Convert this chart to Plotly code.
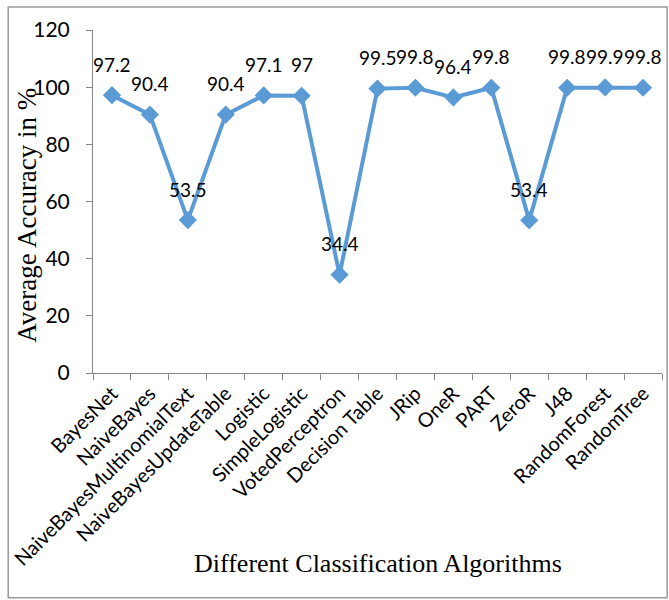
import plotly.graph_objects as go

algorithms = ["BayesNet", "NaiveBayes", "NaiveBayesMultinomialText", "NaiveBayesUpdateTable",
              "Logistic", "SimpleLogistic", "VotedPerceptron", "Decision Table", "JRip", "OneR",
              "PART", "ZeroR", "J48", "RandomForest", "RandomTree"]
accuracy = [97.2, 90.4, 53.5, 90.4, 97.1, 97, 34.4, 99.5, 99.8, 96.4, 99.8, 53.4, 99.8, 99.9, 99.8]
y_ticks = [0, 20, 40, 60, 80, 100, 120]

line_color = "#5B9BD5"
axis_color = "#868686"
label_font = "Lato, Open Sans, sans-serif"
serif_font = "Liberation Serif, Times New Roman, serif"

fig = go.Figure()
fig.add_trace(go.Scatter(
    x=algorithms, y=accuracy,
    mode="lines+markers",
    line=dict(color=line_color, width=4),
    marker=dict(symbol="diamond", size=14, color=line_color),
    cliponaxis=False,
    showlegend=False,
))

# value labels above each point
annotations = [
    dict(x=a, y=v, xref="x", yref="y", text=f"{v:g}", showarrow=False,
         yshift=31, font=dict(family=label_font, size=19, color="black"))
    for a, v in zip(algorithms, accuracy)
]
annotations += [
    dict(text="Different Classification Algorithms", xref="paper", yref="paper",
         x=0.5, y=-0.554, showarrow=False, xanchor="center", yanchor="middle",
         font=dict(family=serif_font, size=26, color="black")),
    dict(text="Average Accuracy in %", xref="paper", yref="paper",
         x=-0.115, y=0.46, showarrow=False, textangle=-90, xanchor="center", yanchor="middle",
         font=dict(family=serif_font, size=27, color="black")),
]

fig.update_layout(
    width=669, height=600,
    margin=dict(l=93, r=7, t=30, b=227),
    paper_bgcolor="white", plot_bgcolor="white",
    xaxis=dict(
        range=[-0.5, len(algorithms) - 0.5],
        showline=True, linecolor=axis_color, linewidth=1,
        ticks="outside", tickcolor=axis_color, ticklen=6,
        tickson="boundaries", tickangle=-45, automargin=False,
        tickfont=dict(family=label_font, size=20, color="black"),
        showgrid=False, zeroline=False,
    ),
    yaxis=dict(
        range=[0, 120], tickvals=y_ticks, automargin=False,
        showline=True, linecolor=axis_color, linewidth=1,
        ticks="outside", tickcolor=axis_color, ticklen=6, ticklabelstandoff=12,
        tickfont=dict(family=label_font, size=21, color="black"),
        showgrid=False, zeroline=False,
    ),
    annotations=annotations,
    shapes=[dict(type="rect", xref="paper", yref="paper",
                 x0=-0.149, x1=1.009, y0=-0.655, y1=1.067,
                 line=dict(color="#9a9a9a", width=1.5), fillcolor="rgba(0,0,0,0)", layer="below")],
)

fig.write_html("out.html")
